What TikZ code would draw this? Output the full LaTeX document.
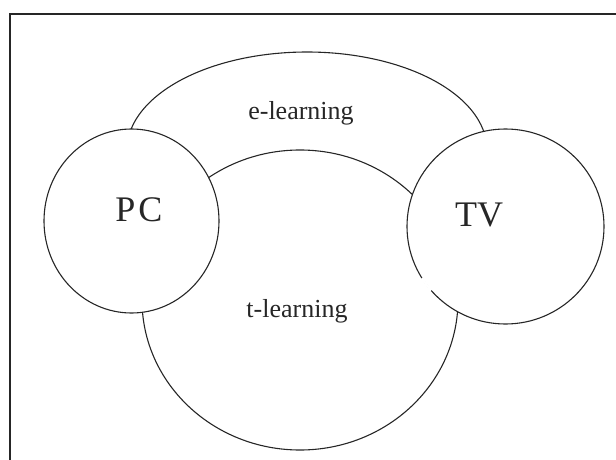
\documentclass[tikz,border=0pt]{standalone}
\usepackage{fontspec}
\setmainfont{Liberation Serif}
\begin{document}
\begin{tikzpicture}[x=1pt,y=1pt,
  ring/.style={draw=black!85,line width=1.1pt},
  lbl/.style={font=\fontsize{26}{28}\selectfont,text=black!85},
  big/.style={font=\fontsize{36}{38}\selectfont,text=black!85}]
\useasboundingbox (0,0) rectangle (616,459);
% frame (cut on right and bottom)
\draw[line width=1.6pt,black!85] (10,-10) -- (10,445) -- (630,445);
% e-learning arc
\coordinate (ec) at (307,309);
\draw[ring] ([shift={(190:180 and 98)}]ec) arc[start angle=190,end angle=-10,x radius=180,y radius=98];
% t-learning ellipse
\coordinate (tc) at (300,159);
\draw[ring] (tc) ellipse [x radius=158,y radius=150];
% PC and TV
\coordinate (pcc) at (131.5,238);
\coordinate (tvc) at (505.5,232.5);
\draw[ring,fill=white] (pcc) ellipse [x radius=87.5,y radius=92];
\draw[ring,fill=white] (tvc) ellipse [x radius=98.5,y radius=97.5];
\draw[white,line width=2.5pt] ([shift={(212:98.5 and 97.5)}]tvc) arc[start angle=212,end angle=221,x radius=98.5,y radius=97.5];
% labels
\node[big] (pc) at (139,249) {P\kern3pt C};
\node[big] (tv) at (479,244) {TV};
\node[lbl] (el) at (301,346) {e-learning};
\node[lbl] (tl) at (297,148) {t-learning};
\end{tikzpicture}
\end{document}
